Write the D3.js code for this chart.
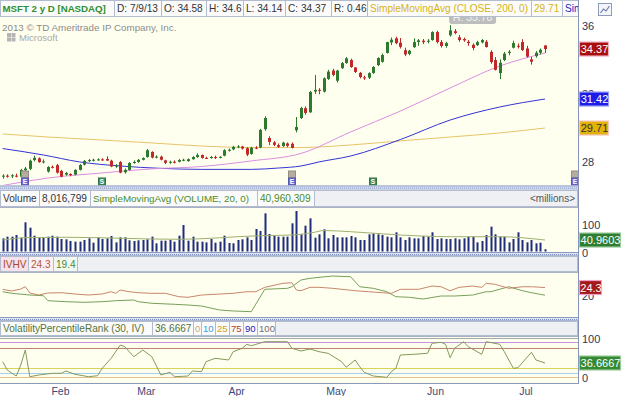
<!DOCTYPE html>
<html><head><meta charset="utf-8">
<script src="https://d3js.org/d3.v7.min.js"></script>
<style>
html,body{margin:0;padding:0;background:#fff;}
svg{display:block;font-family:"Liberation Sans",Arial,sans-serif;}
</style></head><body>
<svg id="c" width="625" height="396"></svg>
<script>
// ---------------- DATA ----------------
const dates = ["2013-01-15","2013-01-16","2013-01-17","2013-01-18","2013-01-22","2013-01-23","2013-01-24","2013-01-25","2013-01-28","2013-01-29","2013-01-30","2013-01-31",
"2013-02-01","2013-02-04","2013-02-05","2013-02-06","2013-02-07","2013-02-08","2013-02-11","2013-02-12","2013-02-13","2013-02-14","2013-02-15","2013-02-19","2013-02-20","2013-02-21","2013-02-22","2013-02-25","2013-02-26","2013-02-27","2013-02-28",
"2013-03-01","2013-03-04","2013-03-05","2013-03-06","2013-03-07","2013-03-08","2013-03-11","2013-03-12","2013-03-13","2013-03-14","2013-03-15","2013-03-18","2013-03-19","2013-03-20","2013-03-21","2013-03-22","2013-03-25","2013-03-26","2013-03-27","2013-03-28",
"2013-04-01","2013-04-02","2013-04-03","2013-04-04","2013-04-05","2013-04-08","2013-04-09","2013-04-10","2013-04-11","2013-04-12","2013-04-15","2013-04-16","2013-04-17","2013-04-18","2013-04-19","2013-04-22","2013-04-23","2013-04-24","2013-04-25","2013-04-26","2013-04-29","2013-04-30",
"2013-05-01","2013-05-02","2013-05-03","2013-05-06","2013-05-07","2013-05-08","2013-05-09","2013-05-10","2013-05-13","2013-05-14","2013-05-15","2013-05-16","2013-05-17","2013-05-20","2013-05-21","2013-05-22","2013-05-23","2013-05-24","2013-05-28","2013-05-29","2013-05-30","2013-05-31",
"2013-06-03","2013-06-04","2013-06-05","2013-06-06","2013-06-07","2013-06-10","2013-06-11","2013-06-12","2013-06-13","2013-06-14","2013-06-17","2013-06-18","2013-06-19","2013-06-20","2013-06-21","2013-06-24","2013-06-25","2013-06-26","2013-06-27","2013-06-28",
"2013-07-01","2013-07-02","2013-07-03","2013-07-05","2013-07-08","2013-07-09"];

const openP = [26.85,26.90,26.86,26.90,26.84,27.22,27.30,27.82,27.92,27.72,27.14,27.42,
27.52,27.18,26.96,27.00,26.96,27.24,27.55,27.77,27.82,27.84,27.86,27.88,27.78,27.44,27.70,27.10,27.24,27.65,27.71,
27.84,28.00,28.30,27.98,28.02,27.80,27.66,27.72,27.72,27.82,27.76,27.87,28.00,28.12,27.95,27.94,28.00,27.96,28.08,28.40,
28.45,28.60,28.62,28.52,28.18,28.55,28.56,29.64,29.12,28.86,28.70,28.64,28.80,28.78,29.58,30.30,30.88,30.64,31.86,31.96,31.86,32.60,
33.10,32.50,33.24,33.55,33.72,33.28,32.96,32.70,32.68,32.96,33.42,33.62,34.14,34.76,35.00,34.74,34.30,34.08,34.48,34.78,34.86,34.80,
34.90,35.37,34.78,34.55,35.18,35.42,35.06,34.96,34.80,34.62,34.60,34.76,34.80,34.20,33.72,32.95,33.72,34.14,34.45,34.56,
34.78,34.40,33.76,33.95,34.15,34.58];
const highP = [26.98,26.98,26.99,27.02,27.30,27.42,27.85,28.08,27.98,27.86,27.46,27.50,
27.60,27.24,27.12,27.04,27.28,27.58,27.82,27.88,27.90,27.92,27.93,28.04,27.84,27.58,27.76,27.32,27.70,27.80,27.88,
27.98,28.48,28.34,28.10,28.08,27.84,27.78,27.80,27.88,27.90,27.92,28.05,28.22,28.15,28.02,28.06,28.08,28.05,28.46,28.50,
28.66,28.70,28.66,28.58,28.60,28.64,29.66,30.40,29.22,28.94,28.80,28.90,28.86,28.86,30.36,30.96,30.98,31.90,32.84,32.06,32.70,33.14,
33.20,33.14,33.60,33.90,33.80,33.30,33.02,32.80,33.00,33.36,33.88,34.10,34.80,35.05,35.10,35.02,34.45,34.32,35.00,34.96,34.96,34.96,
35.42,35.45,34.90,34.80,35.78,35.55,35.20,35.04,34.90,34.70,34.86,34.96,34.90,34.30,33.90,33.76,34.20,34.30,34.86,34.70,
34.95,34.56,33.90,34.25,34.40,34.60];
const lowP = [26.72,26.78,26.76,26.80,26.80,27.00,27.22,27.74,27.66,27.62,27.08,27.32,
27.02,26.80,26.90,26.86,26.92,27.20,27.50,27.70,27.74,27.78,27.77,27.78,27.40,27.36,27.04,27.02,27.20,27.60,27.66,
27.80,27.96,27.92,27.92,27.80,27.58,27.60,27.62,27.68,27.75,27.72,27.84,27.95,27.90,27.88,27.90,27.88,27.92,28.04,28.32,
28.40,28.52,28.44,28.05,28.14,28.46,28.52,29.55,28.70,28.64,28.54,28.60,28.58,28.50,29.45,30.24,30.50,30.60,31.72,31.70,31.80,32.55,
32.76,32.40,33.20,33.50,33.26,32.96,32.64,32.55,32.60,32.90,33.36,33.56,34.10,34.60,34.65,34.40,33.95,34.00,34.44,34.56,34.66,34.70,
34.86,34.70,34.45,34.45,35.10,35.24,34.80,34.80,34.56,34.30,34.55,34.70,34.45,33.50,33.10,32.60,33.66,34.00,34.40,34.40,
34.25,33.86,33.45,33.86,34.05,34.14];
const closeP = [26.90,26.84,26.92,26.88,27.24,27.32,27.78,27.95,27.70,27.74,27.41,27.40,
27.08,26.84,27.06,26.94,27.24,27.53,27.77,27.82,27.84,27.86,27.82,27.79,27.44,27.53,27.08,27.24,27.65,27.71,27.83,
27.94,28.40,27.97,28.02,27.84,27.66,27.72,27.70,27.82,27.84,27.87,28.00,28.12,27.95,27.94,28.00,27.94,28.01,28.40,28.43,
28.60,28.62,28.50,28.14,28.55,28.54,29.60,30.30,28.89,28.72,28.60,28.85,28.66,28.54,29.77,30.89,30.60,31.84,31.96,31.90,32.64,33.04,
32.84,33.10,33.54,33.82,33.31,33.02,32.72,32.66,32.95,33.31,33.84,34.02,34.78,34.92,34.72,34.50,34.05,34.27,34.78,34.88,34.78,34.86,
35.37,34.78,34.55,34.72,35.47,35.31,34.90,34.88,34.72,34.43,34.78,34.90,34.49,33.60,33.14,33.56,34.10,34.21,34.72,34.50,
34.31,33.92,33.62,34.15,34.33,34.37];

// volume, millions of shares
const volumeM = [47.0,53.0,53.0,58.9,49.4,104.2,85.1,56.5,49.4,49.4,53.0,56.5,
53.0,44.6,43.5,37.5,35.1,35.1,41.1,47.0,31.5,50.6,44.6,47.0,55.4,32.7,50.6,50.6,39.9,37.5,39.9,
41.1,43.5,53.0,29.2,38.7,38.7,41.1,35.1,56.5,94.6,38.7,53.0,35.1,35.1,32.7,44.6,31.5,35.1,56.5,30.4,
29.2,41.1,43.5,50.6,41.1,80.4,73.2,136.3,62.5,56.5,53.0,53.0,53.0,100.6,144.6,61.3,92.3,118.5,49.4,61.3,79.2,47.0,
58.9,50.6,50.6,50.6,55.4,50.6,41.1,41.1,61.3,64.9,61.3,58.9,53.0,50.6,68.5,50.6,41.1,50.6,47.0,47.0,55.4,53.0,
68.5,44.6,47.0,44.6,44.6,47.0,43.5,47.0,53.0,53.0,32.7,37.5,58.9,88.7,61.3,53.0,53.0,32.7,44.6,68.5,
41.1,32.7,41.1,29.2,31.5,8.0];

// moving averages: [date, value]
const sma200 = [["2013-01-15",29.36],["2013-01-30",29.18],["2013-02-15",29.00],["2013-03-05",28.83],["2013-03-20",28.65],["2013-04-05",28.56],["2013-04-22",28.56],["2013-05-07",28.71],["2013-05-22",28.95],["2013-06-07",29.18],["2013-06-24",29.42],["2013-07-09",29.71]];
const sma100 = [["2013-01-15",28.50],["2013-01-29",28.12],["2013-02-08",27.71],["2013-02-22",27.47],["2013-03-07",27.33],["2013-03-20",27.27],["2013-04-05",27.27],["2013-04-15",27.35],["2013-04-22",27.47],["2013-04-26",27.71],["2013-05-07",28.06],["2013-05-22",29.03],["2013-06-07",30.18],["2013-06-24",30.95],["2013-07-09",31.42]];
const sma50 = [["2013-01-15",26.32],["2013-01-23",26.56],["2013-01-30",26.76],["2013-02-15",27.06],["2013-03-05",27.30],["2013-03-20",27.44],["2013-04-05",27.77],["2013-04-22",28.21],["2013-05-07",29.48],["2013-05-22",30.71],["2013-06-07",32.07],["2013-06-24",33.37],["2013-07-09",34.13]];
const volSma20 = [["2013-01-15",41.0],["2013-01-24",50.0],["2013-02-05",50.7],["2013-03-13",43.6],["2013-04-09",56.4],["2013-04-18",58.9],["2013-04-25",68.6],["2013-04-29",75.0],["2013-05-07",70.7],["2013-05-22",58.9],["2013-06-07",52.9],["2013-06-24",52.9],["2013-07-09",40.96]];

const ivSeries = [["2013-01-15",23.15],["2013-01-17",22.07],["2013-01-22",23.34],["2013-01-23",24.81],["2013-01-24",20.80],["2013-01-28",19.52],["2013-01-30",20.80],["2013-02-04",20.99],["2013-02-07",20.16],["2013-02-12",19.52],["2013-02-15",20.16],["2013-02-20",21.62],["2013-02-21",20.61],["2013-02-22",22.71],["2013-02-26",21.62],["2013-02-28",20.99],["2013-03-05",20.61],["2013-03-08",20.61],["2013-03-13",18.44],["2013-03-15",18.06],["2013-03-20",19.52],["2013-03-25",19.97],["2013-04-01",20.61],["2013-04-04",21.62],["2013-04-08",21.62],["2013-04-10",24.43],["2013-04-16",26.98],["2013-04-18",27.36],["2013-04-19",22.71],["2013-04-22",22.26],["2013-04-24",24.43],["2013-04-26",24.43],["2013-05-01",23.79],["2013-05-08",22.26],["2013-05-13",21.62],["2013-05-16",20.99],["2013-05-20",20.61],["2013-05-22",23.15],["2013-05-29",23.15],["2013-06-03",25.26],["2013-06-05",24.81],["2013-06-07",22.26],["2013-06-11",24.43],["2013-06-14",25.26],["2013-06-18",24.43],["2013-06-19",26.98],["2013-06-21",26.34],["2013-06-26",23.79],["2013-07-01",24.81],["2013-07-03",24.81],["2013-07-09",24.3]];
const hvSeries = [["2013-01-15",21.62],["2013-01-17",20.61],["2013-01-24",19.52],["2013-01-29",19.08],["2013-01-30",15.89],["2013-02-05",15.26],["2013-02-11",14.87],["2013-02-15",15.26],["2013-02-21",15.89],["2013-02-27",16.34],["2013-02-28",15.26],["2013-03-05",14.24],["2013-03-12",13.60],["2013-03-15",13.15],["2013-03-20",12.52],["2013-03-26",9.97],["2013-04-01",9.33],["2013-04-05",8.89],["2013-04-10",23.15],["2013-04-17",23.79],["2013-04-18",24.81],["2013-04-22",29.08],["2013-04-24",30.16],["2013-04-26",30.80],["2013-05-01",31.62],["2013-05-07",31.18],["2013-05-09",24.81],["2013-05-14",23.79],["2013-05-17",21.62],["2013-05-21",18.44],["2013-05-24",18.06],["2013-05-30",16.97],["2013-06-05",18.89],["2013-06-10",18.89],["2013-06-14",19.52],["2013-06-19",21.62],["2013-06-20",21.62],["2013-06-26",24.81],["2013-07-01",22.26],["2013-07-03",20.99],["2013-07-09",19.4]];
const vprSeries = [["2013-01-15",40.0],["2013-01-16",18.7],["2013-01-18",3.3],["2013-01-22",31.5],["2013-01-23",70.0],["2013-01-24",1.5],["2013-01-28",5.9],["2013-01-31",10.3],["2013-02-04",10.3],["2013-02-05",16.2],["2013-02-07",7.7],["2013-02-12",1.5],["2013-02-14",4.1],["2013-02-15",23.1],["2013-02-20",48.7],["2013-02-22",82.8],["2013-02-25",78.5],["2013-02-27",52.8],["2013-03-01",70.0],["2013-03-05",52.8],["2013-03-07",5.9],["2013-03-11",12.8],["2013-03-12",1.5],["2013-03-15",3.3],["2013-03-18",16.2],["2013-03-20",14.4],["2013-03-21",40.0],["2013-03-25",48.7],["2013-03-28",44.4],["2013-04-01",65.6],["2013-04-03",74.4],["2013-04-04",84.6],["2013-04-05",81.0],["2013-04-10",91.3],["2013-04-17",91.3],["2013-04-18",74.4],["2013-04-22",67.4],["2013-04-24",72.6],["2013-04-26",65.6],["2013-04-30",61.5],["2013-05-03",40.0],["2013-05-06",25.6],["2013-05-08",44.4],["2013-05-09",27.2],["2013-05-10",12.8],["2013-05-14",3.3],["2013-05-17",0.0],["2013-05-20",14.4],["2013-05-21",23.1],["2013-05-22",57.2],["2013-05-28",59.0],["2013-05-31",61.5],["2013-06-03",87.2],["2013-06-05",89.7],["2013-06-06",84.6],["2013-06-07",50.3],["2013-06-10",74.4],["2013-06-12",91.3],["2013-06-13",78.5],["2013-06-18",59.0],["2013-06-19",91.3],["2013-06-24",84.6],["2013-06-25",65.6],["2013-06-27",23.1],["2013-06-28",24.6],["2013-07-03",64.1],["2013-07-05",44.4],["2013-07-09",36.67]];

const priceTicks = [28, 32, 36];
const volTicks = [0, 100];
const ivTicks = [20];
const vprTicks = [0, 100];
const vprLevels = [0, 10, 25, 75, 90, 100];
const monthTickDates = ["2013-02-01","2013-03-01","2013-04-01","2013-05-01","2013-06-03","2013-07-01"];
const monthLabels = ["Feb","Mar","Apr","May","Jun","Jul"];
const earningsDates = ["2013-01-23","2013-04-18"];
const futureEarningsDaysAhead = [7];
const dividendDates = ["2013-02-15","2013-05-14"];
const lastValues = {close: 34.37, sma100: 31.42, sma200: 29.71, volSma: 40.9603, iv: 24.3, vpr: 36.6667};

// ---------------- LAYOUT ----------------
const W = 625, H = 396, PR = 578;
const P = {
  main: {top: 17, bottom: 185},
  vol:  {top: 207, bottom: 252},
  iv:   {top: 272, bottom: 317},
  vpr:  {top: 336, bottom: 383}
};
const svg = d3.select("#c");
const defs = svg.append("defs");
svg.append("rect").attr("width", W).attr("height", H).attr("fill", "#fff");

Object.entries(P).forEach(([k, p]) => {
  defs.append("clipPath").attr("id", "clip-" + k).append("rect")
    .attr("x", 0).attr("y", p.top).attr("width", PR).attr("height", p.bottom - p.top);
  svg.append("rect").attr("x", 0).attr("y", p.top).attr("width", PR).attr("height", p.bottom - p.top)
    .attr("fill", "#fffff0");
});
defs.append("clipPath").attr("id", "clip-head").append("rect").attr("x", 0).attr("y", 0).attr("width", PR).attr("height", H);

const x = d3.scalePoint().domain(dates).range([2.7, 545]);
const step = x.step();
const yP = d3.scaleLinear().domain([26.29, 36.2]).range([186, 18]);
const yV = d3.scaleLinear().domain([0, 100]).range([251.5, 223.5]);
const yI = d3.scaleLinear().domain([5.5, 34.2]).range([317, 272]);
const yR = d3.scaleLinear().domain([0, 100]).range([377.3, 338.3]);

// ---------------- MAIN PANEL ----------------
svg.append("text").attr("x", 2).attr("y", 31).attr("font-size", 9.8).attr("fill", "#8c8c8c")
  .text("2013 \u00A9 TD Ameritrade IP Company, Inc.");
const logo = svg.append("g").attr("fill", "#b4b4b4");
[[7,33],[11.5,33],[7,37.5],[11.5,37.5]].forEach(([a,b]) => logo.append("rect").attr("x", a).attr("y", b).attr("width", 4).attr("height", 4));
svg.append("text").attr("x", 19).attr("y", 40.5).attr("font-size", 9.5).attr("fill", "#a8a8a8").text("Microsoft");

const gMain = svg.append("g").attr("clip-path", "url(#clip-main)");
const maLine = (ys) => d3.line().x(d => x(d[0])).y(d => ys(d[1])).curve(d3.curveMonotoneX);
gMain.append("path").datum(sma200).attr("d", maLine(yP)).attr("fill", "none").attr("stroke", "#e8c46a").attr("stroke-width", 1);
gMain.append("path").datum(sma100).attr("d", maLine(yP)).attr("fill", "none").attr("stroke", "#3434d4").attr("stroke-width", 1);
gMain.append("path").datum(sma50).attr("d", maLine(yP)).attr("fill", "none").attr("stroke", "#dc8ee0").attr("stroke-width", 1);

dates.forEach((d, i) => {
  const up = closeP[i] >= openP[i];
  const col = up ? "#2c7a2c" : "#c0282a";
  const cx = Math.round(x(d)) + 0.5;
  gMain.append("line").attr("x1", cx).attr("x2", cx).attr("y1", yP(highP[i])).attr("y2", yP(lowP[i]))
    .attr("stroke", col).attr("stroke-width", 1);
  const t = yP(Math.max(openP[i], closeP[i])), b = yP(Math.min(openP[i], closeP[i]));
  gMain.append("rect").attr("x", cx - 1.5).attr("y", t).attr("width", 3).attr("height", Math.max(1, b - t)).attr("fill", col);
});

// event markers
function marker(cx, y, fill, letter) {
  svg.append("rect").attr("x", cx - 3.5).attr("y", y).attr("width", 7).attr("height", 7)
    .attr("fill", fill).attr("stroke", d3.color(fill).darker(0.6));
  if (letter) svg.append("text").attr("x", cx).attr("y", y + 6).attr("text-anchor", "middle")
    .attr("font-size", 6.5).attr("font-weight", "bold").attr("fill", "#fff").text(letter);
}
earningsDates.forEach(d => { const cx = Math.round(x(d)); marker(cx, 171, "#b6ada0", ""); marker(cx, 178, "#6d6ad8", "E"); });
futureEarningsDaysAhead.forEach(n => { const cx = Math.min(575, Math.round(x(dates[dates.length - 1]) + n * step)); marker(cx, 171, "#b6ada0", ""); marker(cx, 178, "#6d6ad8", "E"); });
dividendDates.forEach(d => marker(Math.round(x(d)), 178, "#3f8c5a", "S"));

// high bubble (partly under the legend row, as in the original)
const hiIdx = d3.maxIndex(highP);
svg.append("rect").attr("x", x(dates[hiIdx]) - 1).attr("y", 9).attr("width", 47).attr("height", 15).attr("rx", 3)
  .attr("fill", "#bdbdbd");
svg.append("text").attr("x", x(dates[hiIdx]) + 22.5).attr("y", 21).attr("text-anchor", "middle")
  .attr("font-size", 10.5).attr("fill", "#f2f2f2").text("H: " + highP[hiIdx].toFixed(2));

// ---------------- HEADERS ----------------
function header(y0, y1, items, rest) {
  const g = svg.append("g").attr("clip-path", "url(#clip-head)");
  g.append("rect").attr("x", 0.5).attr("y", y0 + 0.5).attr("width", PR - 1).attr("height", y1 - y0 - 1)
    .attr("fill", rest).attr("stroke", "#b3bccd");
  items.forEach(it => {
    g.append("rect").attr("x", it.x0 + 0.5).attr("y", y0 + 0.5).attr("width", it.x1 - it.x0).attr("height", y1 - y0 - 1)
      .attr("fill", it.bg || "#fbfbfb").attr("stroke", "#b3bccd");
    g.append("text").attr("x", it.x0 + (it.pad || 3)).attr("y", (y0 + y1) / 2 + 3.7)
      .attr("font-size", it.fs || 10.1).attr("font-weight", it.b ? "bold" : "normal")
      .attr("fill", it.c).text(it.t);
  });
  return g;
}
header(0, 17, [
  {x0: 0, x1: 114, t: "MSFT 2 y D [NASDAQ]", c: "#2e8f2e", b: true, fs: 9.7, pad: 2.5},
  {x0: 114, x1: 161, t: "D: 7/9/13", c: "#333"},
  {x0: 161, x1: 206, t: "O: " + openP[openP.length - 1], c: "#333"},
  {x0: 206, x1: 243, t: "H: " + highP[highP.length - 1].toFixed(1), c: "#333"},
  {x0: 243, x1: 285, t: "L: " + lowP[lowP.length - 1], c: "#333"},
  {x0: 285, x1: 331, t: "C: " + closeP[closeP.length - 1], c: "#333"},
  {x0: 331, x1: 367, t: "R: 0.46", c: "#333"},
  {x0: 367, x1: 531, t: "SimpleMovingAvg (CLOSE, 200, 0)", c: "#d6b414"},
  {x0: 531, x1: 562, t: "29.71", c: "#d6b414"},
  {x0: 562, x1: 600, t: "Sim", c: "#2424c8"}
], "#fbfbfb");

header(190, 207, [
  {x0: 0, x1: 39, t: "Volume", c: "#333"},
  {x0: 39, x1: 90, t: "8,016,799", c: "#333"},
  {x0: 90, x1: 257, t: "SimpleMovingAvg (VOLUME, 20, 0)", c: "#4a8c2c", fs: 9.8},
  {x0: 257, x1: 314, t: "40,960,309", c: "#4a8c2c"}
], "#eef0f4");
svg.append("text").attr("x", 575).attr("y", 202.2).attr("text-anchor", "end").attr("font-size", 10)
  .attr("fill", "#555").text("<millions>");

header(256, 272, [
  {x0: 0, x1: 28, t: "IVHV", c: "#a4482c", bg: "#f7e1ea"},
  {x0: 28, x1: 53, t: "24.3", c: "#b0583a", bg: "#fbf0f3"},
  {x0: 53, x1: 77, t: "19.4", c: "#4b8a3b", bg: "#f2f8ef"}
], "#eef0f4");

header(321, 336, [
  {x0: 0, x1: 152, t: "VolatilityPercentileRank (30, IV)", c: "#56743a"},
  {x0: 152, x1: 193, t: "36.6667", c: "#56743a"},
  {x0: 193, x1: 201, t: "0", c: "#d4aa60", fs: 9.6, pad: 2},
  {x0: 201, x1: 215, t: "10", c: "#3a9ee0", fs: 9.6, pad: 2},
  {x0: 215, x1: 229, t: "25", c: "#d0a010", fs: 9.6, pad: 2},
  {x0: 229, x1: 243, t: "75", c: "#b0401c", fs: 9.6, pad: 2},
  {x0: 243, x1: 257, t: "90", c: "#2424c8", fs: 9.6, pad: 2},
  {x0: 257, x1: 275, t: "100", c: "#707070", fs: 9.6, pad: 2}
], "#eef0f4");

// separators between panels
function separator(y) {
  svg.append("rect").attr("x", 0).attr("y", y).attr("width", PR).attr("height", 4).attr("fill", "#dfe5f2");
  svg.append("line").attr("x1", 0).attr("x2", PR).attr("y1", y + 0.5).attr("y2", y + 0.5).attr("stroke", "#8a9ac4");
  svg.append("line").attr("x1", 0).attr("x2", PR).attr("y1", y + 2.5).attr("y2", y + 2.5).attr("stroke", "#7f90c0")
    .attr("stroke-dasharray", "1,1");
  svg.append("line").attr("x1", 0).attr("x2", PR).attr("y1", y + 3.5).attr("y2", y + 3.5).attr("stroke", "#aab6d6");
}
separator(185.5); separator(252); separator(317);

// ---------------- VOLUME ----------------
const gVol = svg.append("g").attr("clip-path", "url(#clip-vol)");
dates.forEach((d, i) => {
  const bx = Math.round(x(d)) - 0.5;
  gVol.append("rect").attr("x", bx).attr("y", yV(volumeM[i])).attr("width", 2)
    .attr("height", yV(0) - yV(volumeM[i])).attr("fill", "#202c7c");
});
gVol.append("path").datum(volSma20).attr("d", maLine(yV)).attr("fill", "none").attr("stroke", "#9fb070").attr("stroke-width", 1);

// ---------------- IV / HV ----------------
const gIv = svg.append("g").attr("clip-path", "url(#clip-iv)");
const lin = (ys) => d3.line().x(d => x(d[0])).y(d => ys(d[1]));
gIv.append("path").datum(hvSeries).attr("d", lin(yI)).attr("fill", "none").attr("stroke", "#78a05a").attr("stroke-width", 1);
gIv.append("path").datum(ivSeries).attr("d", lin(yI)).attr("fill", "none").attr("stroke", "#c8866a").attr("stroke-width", 1);
svg.append("line").attr("x1", 0).attr("x2", PR).attr("y1", P.iv.top + 0.5).attr("y2", P.iv.top + 0.5).attr("stroke", "#a9b2c6");

// ---------------- VPR ----------------
const levelColors = ["#e2c48e", "#a9cdf0", "#d6d45a", "#b8866a", "#c690e0", "#a8a8a8"];
const gV = svg.append("g").attr("clip-path", "url(#clip-vpr)");
vprLevels.forEach((lv, i) => {
  gV.append("line").attr("x1", 0).attr("x2", PR).attr("y1", Math.round(yR(lv)) + 0.5).attr("y2", Math.round(yR(lv)) + 0.5)
    .attr("stroke", levelColors[i]).attr("stroke-width", 1);
});
gV.append("path").datum(vprSeries).attr("d", lin(yR)).attr("fill", "none").attr("stroke", "#849a5a").attr("stroke-width", 1);
svg.append("line").attr("x1", 0).attr("x2", PR).attr("y1", P.vpr.top + 0.5).attr("y2", P.vpr.top + 0.5).attr("stroke", "#a9b2c6");
svg.append("line").attr("x1", 0).attr("x2", PR).attr("y1", P.vpr.bottom + 0.5).attr("y2", P.vpr.bottom + 0.5).attr("stroke", "#8f9abb");
svg.append("line").attr("x1", 0).attr("x2", PR).attr("y1", P.vol.top + 0.5).attr("y2", P.vol.top + 0.5).attr("stroke", "#a9b2c6");

// ---------------- X AXIS ----------------
const xAxis = d3.axisBottom(x).tickValues(monthTickDates).tickFormat((d, i) => monthLabels[i]).tickSize(0);
const gx = svg.append("g").attr("transform", "translate(3," + (P.vpr.bottom + 2) + ")").call(xAxis);
gx.select(".domain").remove();
gx.selectAll("text").attr("font-size", 10.5).attr("fill", "#3b4a78").attr("font-family", "Liberation Sans, Arial, sans-serif");

// ---------------- RIGHT AXIS ----------------
svg.append("line").attr("x1", PR + 0.5).attr("x2", PR + 0.5).attr("y1", 0).attr("y2", P.vpr.bottom + 1).attr("stroke", "#8593b8");
function tickLabels(ticks, ys, off) {
  ticks.forEach(t => svg.append("text").attr("x", 582).attr("y", ys(t) + off + 4).attr("font-size", 11)
    .attr("fill", "#2c3656").text(t));
}
tickLabels(priceTicks, yP, 4.6);
tickLabels(volTicks, yV, 1);
tickLabels(ivTicks, yI, 1.5);
tickLabels(vprTicks, yR, 1);

function valueBox(v, ys, w, fill, txt, halo) {
  const cy = ys(v);
  svg.append("rect").attr("x", 579.5).attr("y", cy - 7).attr("width", w).attr("height", 14)
    .attr("fill", fill).attr("stroke", halo).attr("stroke-width", 1.2);
  svg.append("text").attr("x", 580 + w / 2).attr("y", cy + 4.1).attr("text-anchor", "middle")
    .attr("font-size", 11).attr("fill", txt).text(v);
}
valueBox(lastValues.close, yP, 29, "#a80e0e", "#fff", "#f2b2c0");
valueBox(lastValues.sma100, yP, 29, "#1c1ce6", "#fff", "#9aa0f0");
valueBox(lastValues.sma200, yP, 29, "#e3b20a", "#333", "#f6c8c0");
valueBox(lastValues.volSma, yV, 41, "#2e7d32", "#fff", "#9ccc9c");
valueBox(lastValues.iv, yI, 22, "#a41a1a", "#fff", "#f2a2c8");
valueBox(lastValues.vpr, yR, 41, "#338a33", "#fff", "#9ccc9c");

// top-right icon
svg.append("rect").attr("x", 598.5).attr("y", 3.5).attr("width", 13).attr("height", 12).attr("fill", "#f4f6fa").attr("stroke", "#8d9ab8");
svg.append("polyline").attr("points", "600.5,13 603.5,9 606,11 609.5,6").attr("fill", "none").attr("stroke", "#6d7fa8").attr("stroke-width", 1.2);
</script>
</body></html>
